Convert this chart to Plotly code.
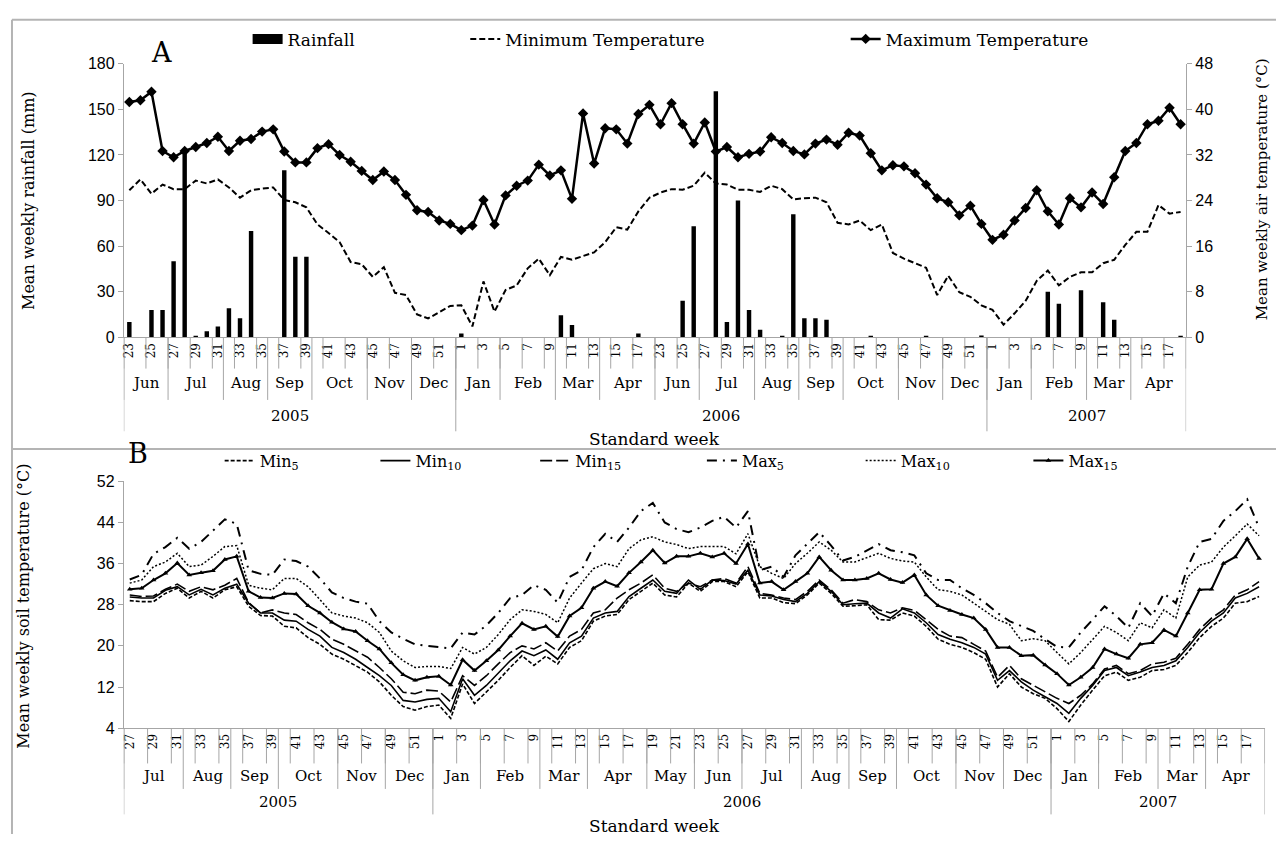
import plotly.graph_objects as go

W, H = 1276, 843
SERIF = "DejaVu Serif"
SANS = "Liberation Sans"
GRID = "#a6a6a6"

month_names = ['Jan', 'Feb', 'Mar', 'Apr', 'May', 'Jun', 'Jul', 'Aug', 'Sep', 'Oct', 'Nov', 'Dec']
month_start_week = [1, 5, 10, 14, 19, 23, 27, 32, 36, 40, 45, 49]

# ---------------- Panel A data ----------------
years_A = [2005] * 30 + [2006] * 48 + [2007] * 18
weeks_A = list(range(23, 53)) + list(range(1, 19)) + list(range(23, 53)) + list(range(1, 19))

rainfall = [10, 0, 18, 18, 50, 123, 0.5, 4, 7, 19, 12.5, 70, 0, 0, 110, 53, 53, 0, 0, 0,
            0, 0, 0, 0, 0, 0, 0, 0, 0, 0,
            2.5, 0, 0, 0, 0, 0, 0, 0, 0, 14.5, 8, 0, 0, 0, 0, 0, 2.5, 0, 0, 0,
            24, 73, 0, 162, 10, 90, 18, 5, 0, 0.7, 81, 12.5, 12.5, 11.5, 0, 0, 0, 0.7, 0, 0,
            0, 0, 0.5, 0, 0, 0, 0, 1.2,
            0, 0, 0, 0, 0, 30, 22, 0, 31, 0, 23, 11.5, 0, 0, 0, 0, 0, 0.7]

min_temp = [25.8, 27.7, 25.2, 26.8, 26.0, 26.0, 27.5, 27.0, 27.7, 26.3, 24.5, 25.8, 26.1, 26.3, 24.1,
            23.7, 22.8, 19.8, 18.3, 16.7, 13.2, 12.8, 10.6, 12.3, 7.8, 7.4, 4.0, 3.3, 4.4, 5.5,
            5.6, 1.9, 9.8, 4.5, 8.3, 9.1, 12.1, 13.8, 10.9, 14.1, 13.6, 14.2, 14.9, 16.7, 19.3, 18.9,
            22.1, 24.5, 25.4, 26.0, 25.9, 26.6, 28.9, 27.0, 26.8, 25.9, 25.9, 25.5, 26.6, 26.0, 24.2,
            24.4, 24.5, 23.7, 20.1, 19.8, 20.5, 18.8, 19.8, 14.8, 13.8, 13.0, 12.2, 7.4, 10.8, 7.9,
            7.1, 5.6, 4.8, 2.2, 4.2, 6.4, 9.9, 11.7, 9.1, 10.6, 11.4, 11.4, 13.0, 13.6, 16.2, 18.5,
            18.5, 23.2, 21.7, 22.0]

max_temp = [41.3, 41.6, 43.1, 32.7, 31.6, 32.7, 33.4, 34.1, 35.2, 32.7, 34.5, 34.8, 36.1, 36.5, 32.6,
            30.7, 30.7, 33.2, 33.9, 32.0, 30.8, 29.2, 27.6, 29.1, 27.6, 25.0, 22.3, 22.0, 20.5, 19.9,
            18.8, 19.6, 24.1, 19.8, 24.9, 26.6, 27.5, 30.3, 28.4, 29.3, 24.3, 39.3, 30.5, 36.7, 36.5,
            34.0, 39.2, 40.8, 37.4, 41.1, 37.4, 34.0, 37.7, 32.6, 33.4, 31.6, 32.2, 32.6, 35.1, 34.1,
            32.7, 32.1, 34.0, 34.7, 33.8, 35.9, 35.4, 32.3, 29.3, 30.2, 30.0, 28.8, 26.8, 24.4, 23.7,
            21.4, 23.1, 19.9, 17.1, 18.0, 20.5, 22.7, 25.8, 22.1, 19.8, 24.4, 22.8, 25.4, 23.4, 28.1,
            32.7, 34.1, 37.4, 38.0, 40.3, 37.4]

# ---------------- Panel B data ----------------
years_B = [2005] * 26 + [2006] * 52 + [2007] * 18
weeks_B = list(range(27, 53)) + list(range(1, 53)) + list(range(1, 19))

min5 = [28.8, 28.6, 28.6, 30.2, 31.2, 29.3, 30.6, 29.3, 30.9, 31.5, 27.7, 25.9, 25.8, 23.8, 23.5, 21.6,
        20.3, 18.4, 17.4, 16.2, 14.9, 13.0, 10.4, 8.2, 7.5, 8.2, 8.5, 5.9, 12.6, 8.8, 11.0, 13.3, 15.8,
        18.1, 16.2, 18.0, 16.5, 19.7, 21.0, 24.8, 25.8, 26.1, 29.0, 30.6, 32.2, 29.9, 29.5, 32.2, 30.6,
        32.5, 32.5, 31.5, 34.4, 29.3, 29.3, 28.4, 28.2, 29.9, 32.2, 30.2, 27.7, 27.8, 28.0, 25.1, 25.0,
        26.4, 25.8, 23.8, 21.3, 20.3, 19.7, 18.7, 17.4, 12.0, 14.6, 12.0, 10.7, 9.8, 7.8, 5.3, 8.5,
        11.4, 14.2, 14.9, 13.3, 13.9, 15.2, 15.4, 16.2, 18.7, 21.6, 23.8, 25.4, 28.3, 28.6, 29.6]
min10 = [29.5, 29.3, 29.3, 30.8, 31.5, 29.9, 31.0, 29.9, 31.2, 32.0, 28.3, 26.4, 26.4, 25.0, 24.8, 23.2,
         21.9, 19.7, 18.7, 17.4, 15.8, 14.2, 12.3, 9.4, 9.1, 9.6, 9.8, 7.2, 13.6, 10.4, 12.3, 14.6, 17.1,
         19.0, 18.1, 19.2, 17.4, 20.6, 21.9, 25.4, 26.4, 26.7, 29.6, 31.2, 32.8, 30.6, 30.2, 32.8, 31.0,
         32.8, 32.7, 32.0, 34.7, 29.9, 29.7, 29.0, 28.6, 30.2, 32.5, 30.6, 28.0, 28.2, 28.3, 26.4, 25.4,
         27.2, 26.4, 24.5, 22.2, 21.3, 20.6, 19.7, 18.4, 13.3, 15.2, 13.0, 11.4, 10.1, 8.8, 6.9, 9.8,
         12.3, 15.2, 15.8, 14.2, 14.9, 15.8, 16.2, 17.1, 19.7, 22.6, 24.8, 26.4, 29.3, 30.2, 31.5]
min15 = [29.9, 29.6, 29.7, 31.0, 32.0, 30.6, 31.5, 30.9, 31.8, 33.1, 28.4, 26.4, 27.0, 26.4, 26.1, 24.5,
         23.2, 21.3, 20.3, 19.0, 17.8, 15.8, 13.6, 11.0, 10.7, 11.4, 11.2, 9.1, 14.2, 12.3, 14.2, 16.5, 18.7,
         20.0, 19.4, 20.6, 19.0, 21.9, 23.2, 26.4, 27.0, 29.3, 30.9, 32.2, 33.8, 31.2, 30.6, 32.2, 31.5,
         32.8, 33.1, 32.2, 35.4, 30.2, 29.9, 29.3, 29.0, 30.6, 32.8, 30.9, 28.3, 29.0, 28.6, 27.0, 26.4,
         27.4, 26.9, 25.1, 23.2, 21.9, 21.6, 20.3, 19.0, 13.9, 16.2, 13.6, 12.3, 11.0, 9.8, 8.8, 10.4,
         12.6, 15.5, 16.2, 14.6, 15.2, 16.5, 16.8, 17.6, 20.3, 23.2, 25.4, 27.0, 29.9, 30.9, 32.5]
max5 = [32.9, 33.8, 37.9, 39.2, 41.0, 38.9, 40.2, 42.4, 44.6, 43.7, 34.7, 34.0, 33.8, 36.8, 36.5, 35.4,
        33.1, 30.4, 29.3, 28.6, 28.2, 24.8, 22.6, 21.4, 20.3, 20.0, 19.7, 19.5, 22.6, 22.2, 24.0, 26.4, 29.3,
        29.9, 31.8, 30.9, 28.4, 33.4, 34.7, 39.2, 41.8, 40.2, 43.0, 46.2, 47.8, 44.0, 42.7, 42.1, 43.0,
        44.3, 45.1, 43.0, 46.2, 34.7, 35.4, 33.4, 37.6, 39.8, 42.1, 39.5, 36.6, 37.3, 38.6, 39.8, 38.6,
        38.2, 37.6, 34.1, 32.8, 32.8, 31.2, 29.9, 28.3, 26.4, 24.8, 23.8, 22.9, 21.3, 19.8, 19.7, 22.6,
        25.1, 27.7, 25.8, 23.5, 28.3, 25.8, 30.2, 28.3, 35.4, 40.2, 40.8, 44.3, 46.2, 48.5, 43.0]
max10 = [32.2, 32.8, 35.4, 36.3, 38.0, 35.4, 35.7, 37.4, 39.3, 39.5, 31.8, 31.2, 30.9, 33.1, 33.1, 31.5,
         29.0, 26.4, 25.8, 25.4, 24.5, 22.6, 19.0, 17.1, 15.8, 16.0, 16.0, 15.6, 19.7, 18.4, 19.7, 22.2, 25.1,
         27.0, 26.7, 26.1, 24.5, 29.3, 32.2, 35.0, 36.0, 35.4, 38.9, 40.6, 41.2, 40.2, 39.7, 38.9, 39.3,
         39.3, 39.3, 37.9, 41.8, 35.4, 34.1, 33.1, 36.0, 38.0, 40.2, 38.6, 36.3, 36.3, 37.2, 38.0, 37.0,
         36.5, 36.3, 33.4, 30.9, 30.6, 29.9, 28.3, 26.7, 25.1, 24.2, 21.0, 21.4, 21.0, 18.7, 16.5, 18.7,
         21.3, 23.8, 22.6, 21.0, 24.5, 23.5, 27.0, 25.4, 33.4, 35.7, 36.3, 39.2, 41.4, 43.7, 41.4]
max15 = [31.0, 31.2, 32.8, 34.1, 36.1, 33.8, 34.2, 34.6, 36.8, 37.4, 30.6, 29.4, 29.3, 30.2, 30.1, 27.8,
         26.4, 24.6, 23.3, 22.8, 21.0, 19.4, 16.7, 14.4, 13.3, 13.9, 14.1, 12.4, 17.3, 15.2, 17.1, 19.2, 21.9,
         24.4, 23.2, 23.8, 21.8, 25.8, 27.4, 31.2, 32.5, 31.6, 34.2, 36.3, 38.6, 36.1, 37.4, 37.4, 38.0,
         37.3, 38.0, 36.0, 39.8, 32.2, 32.5, 30.9, 32.5, 34.1, 37.3, 34.7, 32.8, 32.8, 33.1, 34.1, 32.9,
         32.3, 33.8, 29.9, 27.8, 26.9, 26.1, 25.4, 23.2, 19.7, 19.7, 18.1, 18.2, 16.3, 14.6, 12.4, 13.9,
         15.8, 19.4, 18.4, 17.6, 20.3, 20.6, 23.1, 21.9, 26.4, 30.9, 31.0, 36.0, 37.3, 40.8, 37.0]


def px(x):
    return x / W


def py(y):
    return 1 - y / H


def month_of(w):
    k = 0
    for j, s in enumerate(month_start_week):
        if w >= s:
            k = j
    return month_names[k]


def runs(keys):
    out = []
    start = 0
    for i in range(1, len(keys) + 1):
        if i == len(keys) or keys[i] != keys[start]:
            out.append((start, i - 1, keys[start]))
            start = i
    return out


def axis_decor(xref, years, weeks, y_axis, y_week, y_month, y_year, y_mlab, y_ylab, y_title, x_title):
    shapes, annos = [], []
    n = len(weeks)
    line = dict(color=GRID, width=1)
    for i in list(range(0, n, 2)) + [n]:
        shapes.append(dict(type="line", xref=xref, yref="paper", x0=i - 0.5, x1=i - 0.5,
                           y0=py(y_axis), y1=py(y_week), line=line))
    mkeys = [(y, month_of(w)) for y, w in zip(years, weeks)]
    for s, e, (yr, m) in runs(mkeys):
        shapes.append(dict(type="line", xref=xref, yref="paper", x0=s - 0.5, x1=s - 0.5,
                           y0=py(y_axis), y1=py(y_month), line=line))
        annos.append(dict(xref=xref, yref="paper", x=(s + e) / 2, y=py(y_mlab), text=m, showarrow=False,
                          font=dict(family=SERIF, size=15, color="black"), xanchor="center",
                          yanchor="middle"))
    for s, e, yr in runs(list(years)):
        shapes.append(dict(type="line", xref=xref, yref="paper", x0=s - 0.5, x1=s - 0.5,
                           y0=py(y_axis), y1=py(y_year), line=line))
        annos.append(dict(xref=xref, yref="paper", x=(s + e) / 2, y=py(y_ylab), text=str(yr), showarrow=False,
                          font=dict(family=SERIF, size=15, color="black"), xanchor="center",
                          yanchor="middle"))
    shapes.append(dict(type="line", xref=xref, yref="paper", x0=n - 0.5, x1=n - 0.5,
                       y0=py(y_axis), y1=py(y_year), line=line))
    annos.append(dict(xref="paper", yref="paper", x=px(x_title), y=py(y_title), text="Standard week",
                      showarrow=False, font=dict(family=SERIF, size=17, color="black"),
                      xanchor="center", yanchor="middle"))
    return shapes, annos


idx_A = list(range(len(weeks_A)))
idx_B = list(range(len(weeks_B)))

fig = go.Figure()

# Panel A traces
fig.add_trace(go.Bar(x=idx_A, y=rainfall, marker=dict(color="black", line=dict(width=0)), width=0.4,
                     showlegend=False, xaxis="x", yaxis="y"))
fig.add_trace(go.Scatter(x=[None], y=[None], mode="lines", name="Rainfall",
                         line=dict(color="black", width=11), legend="legend", xaxis="x", yaxis="y"))
fig.add_trace(go.Scatter(x=idx_A, y=min_temp, mode="lines", name="Minimum Temperature",
                         line=dict(color="black", width=2, dash="6px,3px"), legend="legend2",
                         xaxis="x", yaxis="y2"))
fig.add_trace(go.Scatter(x=idx_A, y=max_temp, mode="lines+markers", name="Maximum Temperature",
                         line=dict(color="black", width=2.5), marker=dict(symbol="diamond", size=8, color="black"),
                         legend="legend3", xaxis="x", yaxis="y2"))

# Panel B traces
b_series = [
    ("Min<sub>5</sub>", min5, dict(color="black", width=1.6, dash="4px,2px"), None, "legend4"),
    ("Min<sub>10</sub>", min10, dict(color="black", width=1.6), None, "legend5"),
    ("Min<sub>15</sub>", min15, dict(color="black", width=1.6, dash="12px,4px"), None, "legend6"),
    ("Max<sub>5</sub>", max5, dict(color="black", width=2, dash="10px,6px,2px,6px"), None, "legend7"),
    ("Max<sub>10</sub>", max10, dict(color="black", width=1.5, dash="2px,2px"), None, "legend8"),
    ("Max<sub>15</sub>", max15, dict(color="black", width=2), dict(symbol="triangle-up", size=5, color="black"),
     "legend9"),
]
for name, vals, ln, mk, lg in b_series:
    fig.add_trace(go.Scatter(x=idx_B, y=vals, mode="lines+markers" if mk else "lines", name=name, line=ln,
                             marker=mk, legend=lg, xaxis="x2", yaxis="y3"))

# Axis geometry (pixels)
A_left, A_right, A_top, A_bot = 122, 1186, 57, 336
B_left, B_right, B_top, B_bot = 122, 1265, 483, 735

tickfont_w = dict(family=SERIF, size=12, color="black")
numfont = dict(family=SANS, size=16, color="black")

fig.update_layout(
    width=W, height=H, margin=dict(l=0, r=0, t=0, b=0),
    paper_bgcolor="white", plot_bgcolor="white", barmode="overlay",
    xaxis=dict(domain=[px(A_left), px(A_right)], range=[-0.5, len(weeks_A) - 0.5], anchor="y",
               tickmode="array", tickvals=idx_A[::2], ticktext=[str(w) for w in weeks_A[::2]],
               tickangle=-90, tickfont=tickfont_w, showline=True, linecolor=GRID, linewidth=1,
               ticks="", showgrid=False, zeroline=False, fixedrange=True),
    yaxis=dict(domain=[py(A_bot), py(A_top)], range=[0, 180], dtick=30, anchor="x", showline=True,
               linecolor=GRID, linewidth=1, ticks="outside", ticklen=5, tickcolor=GRID, showgrid=False,
               zeroline=False, tickfont=numfont),
    yaxis2=dict(domain=[py(A_bot), py(A_top)], range=[0, 48], dtick=8, anchor="x", overlaying="y",
                side="right", showline=True, linecolor=GRID, linewidth=1, ticks="outside", ticklen=5,
                tickcolor=GRID, showgrid=False, zeroline=False, tickfont=numfont),
    xaxis2=dict(domain=[px(B_left), px(B_right)], range=[-0.5, len(weeks_B) - 0.5], anchor="y3",
                tickmode="array", tickvals=idx_B[::2], ticktext=[str(w) for w in weeks_B[::2]],
                tickangle=-90, tickfont=tickfont_w, showline=True, linecolor=GRID, linewidth=1,
                ticks="", showgrid=False, zeroline=False),
    yaxis3=dict(domain=[py(B_bot), py(B_top)], range=[4, 52], tick0=4, dtick=8, anchor="x2", showline=True,
                linecolor=GRID, linewidth=1, ticks="outside", ticklen=5, tickcolor=GRID, showgrid=False,
                zeroline=False, tickfont=numfont),
)


def leg(x, y, size):
    return dict(x=px(x), y=py(y), xanchor="left", yanchor="middle", orientation="h",
                font=dict(family=SERIF, size=size, color="black"), bgcolor="rgba(0,0,0,0)", borderwidth=0)


fig.update_layout(
    legend=leg(246, 32, 17), legend2=leg(464, 32, 17), legend3=leg(845, 32, 17),
    legend4=leg(218, 462, 16), legend5=leg(374, 462, 16), legend6=leg(534, 462, 16),
    legend7=leg(701, 462, 16), legend8=leg(860, 462, 16), legend9=leg(1028, 462, 16),
)

shapes, annos = [], []
sA, aA = axis_decor("x", years_A, weeks_A, A_bot, 368, 400, 432, 383, 416, 440, 654)
sB, aB = axis_decor("x2", years_B, weeks_B, B_bot, 771, 797, 823, 784, 810, 835, 654)
shapes += sA + sB
annos += aA + aB

# Frames
frame = dict(color="#b4b4b4", width=2)
shapes += [
    dict(type="line", xref="paper", yref="paper", x0=px(10), x1=1, y0=py(12), y1=py(12), line=frame),
    dict(type="line", xref="paper", yref="paper", x0=px(10), x1=px(10), y0=py(12), y1=0, line=frame),
    dict(type="line", xref="paper", yref="paper", x0=px(10), x1=1, y0=py(450), y1=py(450), line=frame),
]

# Panel letters and axis titles
title_font = dict(family=SERIF, size=16, color="black")
annos += [
    dict(xref="paper", yref="paper", x=px(160), y=py(45), text="A", showarrow=False, xanchor="center",
         yanchor="middle", font=dict(family=SERIF, size=27, color="black")),
    dict(xref="paper", yref="paper", x=px(136), y=py(455), text="B", showarrow=False, xanchor="center",
         yanchor="middle", font=dict(family=SERIF, size=27, color="black")),
    dict(xref="paper", yref="paper", x=px(26), y=py(196), text="Mean weekly rainfall (mm)", textangle=-90,
         showarrow=False, xanchor="center", yanchor="middle", font=title_font),
    dict(xref="paper", yref="paper", x=px(1262), y=py(185), text="Mean weekly air temperature (°C)",
         textangle=-90, showarrow=False, xanchor="center", yanchor="middle",
         font=dict(family=SERIF, size=15, color="black")),
    dict(xref="paper", yref="paper", x=px(22), y=py(610), text="Mean weekly soil temperature (°C)",
         textangle=-90, showarrow=False, xanchor="center", yanchor="middle", font=title_font),
]

fig.update_layout(shapes=shapes, annotations=annos)
fig.write_html("out.html")
